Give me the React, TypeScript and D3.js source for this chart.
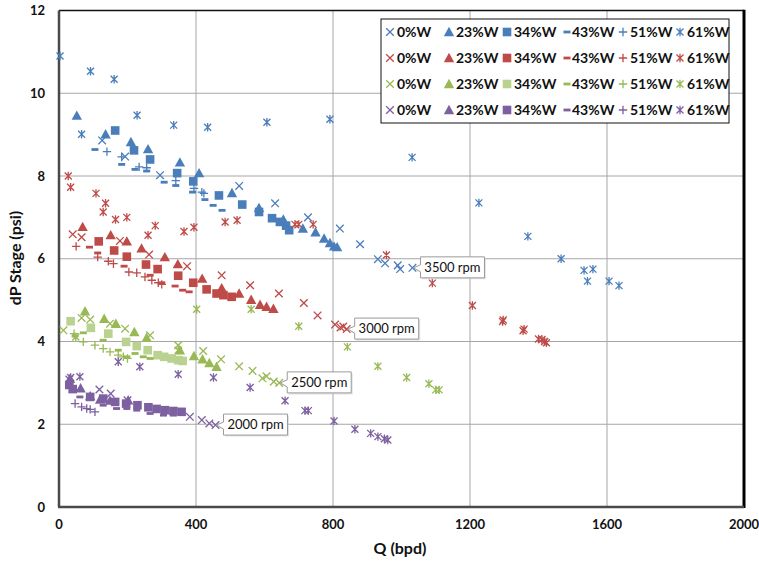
import React from 'react';
import * as d3 from 'd3';

// ---------- DATA (Q in bpd, dP in psi) ----------
const rpmLabels = ['3500 rpm', '3000 rpm', '2500 rpm', '2000 rpm'];
const waterCuts = ['0%W', '23%W', '34%W', '43%W', '51%W', '61%W'];

// 3500 rpm
const r3500_w0 = [[126,8.86],[193,8.47],[295,8.02],[526,7.76],[631,7.34],[727,7.0],[820,6.73],[879,6.35],[931,5.99],[952,5.89],[989,5.84],[996,5.75],[1032,5.78]];
const r3500_w23 = [[52,9.46],[136,9.01],[210,8.82],[260,8.65],[353,8.33],[409,8.07],[505,7.59],[584,7.23],[655,6.95],[712,6.73],[749,6.64],[774,6.49],[791,6.38],[803,6.3],[812,6.28]];
const r3500_w34 = [[164,9.1],[219,8.62],[266,8.4],[345,8.07],[392,7.87],[467,7.53],[535,7.31],[584,7.13],[622,6.98],[645,6.89],[663,6.8],[672,6.69]];
const r3500_w43 = [[105,8.64],[183,8.28],[222,8.16],[256,8.12],[307,7.85],[341,7.77],[390,7.61],[426,7.43],[450,7.29],[476,7.17]];
const r3500_w51 = [[140,8.59],[183,8.46],[234,8.22],[256,8.2],[341,7.89],[394,7.7],[417,7.61],[423,7.58]];
const r3500_w61 = [[3,10.9],[92,10.53],[161,10.34],[66,9.01],[228,9.47],[335,9.23],[434,9.18],[607,9.3],[791,9.37],[1031,8.45],[1226,7.35],[1369,6.54],[1466,6.0],[1533,5.72],[1559,5.75],[1543,5.46],[1606,5.46],[1635,5.35]];

// 3000 rpm
const r3000_w0 = [[40,6.59],[66,6.52],[178,6.43],[263,6.1],[374,5.82],[475,5.6],[558,5.36],[642,5.16],[715,4.93],[755,4.63],[806,4.41],[822,4.34],[830,4.36],[840,4.3]];
const r3000_w23 = [[69,6.77],[151,6.57],[198,6.42],[241,6.25],[309,6.04],[347,5.87],[418,5.52],[475,5.29],[526,5.16],[561,5.01],[587,4.89],[606,4.84],[626,4.79]];
const r3000_w34 = [[116,6.42],[161,6.2],[198,6.05],[254,5.86],[288,5.75],[348,5.59],[392,5.42],[431,5.26],[460,5.16],[480,5.12],[504,5.08]];
const r3000_w43 = [[89,6.28],[113,6.14],[190,5.82],[266,5.6],[300,5.42],[339,5.34],[361,5.24],[380,5.2]];
const r3000_w51 = [[50,6.3],[113,6.04],[144,5.94],[159,5.88],[204,5.68],[227,5.66],[251,5.56],[271,5.48],[290,5.42],[300,5.38]];
const r3000_w61 = [[27,8.0],[34,7.73],[108,7.58],[136,7.34],[129,7.13],[165,6.95],[198,7.0],[281,6.8],[260,6.57],[365,6.66],[394,6.76],[485,6.89],[520,6.93],[689,6.83],[700,6.83],[742,6.83],[956,6.09],[1090,5.41],[1207,4.87],[1295,4.48],[1297,4.52],[1355,4.26],[1358,4.3],[1400,4.06],[1410,4.05],[1418,4.0],[1423,3.97]];

// 2500 rpm
const r2500_w0 = [[13,4.27],[66,4.57],[91,4.53],[149,4.43],[193,4.31],[266,4.15],[348,3.91],[421,3.77],[473,3.57],[526,3.4],[565,3.29],[594,3.11],[606,3.16],[627,3.03],[643,3.0]];
const r2500_w23 = [[76,4.73],[132,4.55],[166,4.43],[220,4.23],[256,4.09],[353,3.79],[394,3.65],[419,3.57],[439,3.48],[460,3.39]];
const r2500_w34 = [[34,4.49],[93,4.33],[144,4.19],[196,3.99],[227,3.89],[259,3.79],[288,3.67],[307,3.63],[329,3.59],[348,3.55],[361,3.53]];
const r2500_w43 = [[47,4.13],[71,4.21],[129,4.03],[173,3.79],[198,3.63],[222,3.71],[246,3.63],[266,3.59]];
const r2500_w51 = [[44,4.19],[71,3.99],[105,3.91],[129,3.83],[149,3.75],[173,3.67],[188,3.63],[200,3.59]];
const r2500_w61 = [[49,4.11],[348,3.79],[402,4.78],[561,4.78],[700,4.37],[842,3.87],[931,3.4],[1015,3.13],[1080,2.98],[1100,2.83],[1110,2.83]];

// 2000 rpm
const r2000_w0 = [[30,3.08],[118,2.84],[151,2.74],[200,2.58],[382,2.18],[417,2.1],[439,2.02],[457,1.98]];
const r2000_w23 = [[32,3.1],[63,2.87],[91,2.68],[120,2.6],[149,2.57],[202,2.58]];
const r2000_w34 = [[30,2.95],[40,2.85],[91,2.66],[129,2.62],[164,2.54],[196,2.5],[229,2.46],[261,2.41],[285,2.37],[309,2.34],[334,2.32],[358,2.3]];
const r2000_w43 = [[61,2.66],[129,2.46],[168,2.38],[198,2.38],[227,2.34],[266,2.26],[305,2.22],[334,2.22]];
const r2000_w51 = [[47,2.5],[66,2.42],[81,2.38],[91,2.36],[105,2.3]];
const r2000_w61 = [[34,3.13],[61,3.15],[173,3.51],[236,3.39],[348,3.21],[451,3.13],[558,2.89],[660,2.57],[718,2.33],[728,2.33],[803,2.08],[864,1.88],[910,1.78],[931,1.7],[950,1.65],[960,1.62]];

// callout anchor points (Q, dP)
const calloutQ = [1032, 840, 643, 457];
const calloutDP = [5.78, 4.3, 3.0, 1.98];

const xTicks = [0, 400, 800, 1200, 1600, 2000];
const yTicks = [0, 2, 4, 6, 8, 10, 12];

const groups = [
  [r3500_w0, r3500_w23, r3500_w34, r3500_w43, r3500_w51, r3500_w61],
  [r3000_w0, r3000_w23, r3000_w34, r3000_w43, r3000_w51, r3000_w61],
  [r2500_w0, r2500_w23, r2500_w34, r2500_w43, r2500_w51, r2500_w61],
  [r2000_w0, r2000_w23, r2000_w34, r2000_w43, r2000_w51, r2000_w61],
];

const baseColors = ['#4A7EBB', '#BE4B48', '#98B954', '#7D60A0'];
const squareColors = ['#4A7EBB', '#BE4B48', '#B9D28F', '#7D60A0'];

const FONT = 'Lato, "Open Sans", sans-serif';

function Marker({ type, x, y, color }: { type: number; x: number; y: number; color: string }) {
  const sw = 1.3;
  switch (type) {
    case 0: {
      const h = 3.8;
      return <path d={`M${x - h},${y - h}L${x + h},${y + h}M${x - h},${y + h}L${x + h},${y - h}`} stroke={color} strokeWidth={sw} fill="none" />;
    }
    case 1: {
      return <path d={`M${x},${y - 5.2}L${x + 5.2},${y + 4.2}L${x - 5.2},${y + 4.2}Z`} fill={color} />;
    }
    case 2:
      return <rect x={x - 4.3} y={y - 4.3} width={8.6} height={8.6} fill={color} />;
    case 3:
      return <rect x={x - 3.5} y={y - 1.4} width={7} height={2.8} fill={color} />;
    case 4: {
      const h = 4.2;
      return <path d={`M${x - h},${y}L${x + h},${y}M${x},${y - h}L${x},${y + h}`} stroke={color} strokeWidth={sw} fill="none" />;
    }
    default: {
      const h = 3.5;
      return <path d={`M${x - h},${y - h}L${x + h},${y + h}M${x - h},${y + h}L${x + h},${y - h}M${x},${y - 4.2}L${x},${y + 4.2}`} stroke={color} strokeWidth={sw} fill="none" />;
    }
  }
}

export default function App() {
  const W = 759, H = 563;
  const x = d3.scaleLinear().domain([0, 2000]).range([59, 744]);
  const y = d3.scaleLinear().domain([0, 12]).range([507, 10.5]);
  const colorOf = (g: number, t: number) => (t === 2 ? squareColors[g] : baseColors[g]);

  const legendX0 = 390, legendColW = [0, 59, 117, 177, 233, 290];
  const legendY0 = 32, legendRowH = 26;

  return (
    <svg width={W} height={H} style={{ position: 'absolute', left: 0, top: 0, background: '#fff' }}>
      {/* gridlines */}
      {yTicks.map((t) => (
        <line key={'gy' + t} x1={x(0)} x2={x(2000)} y1={y(t)} y2={y(t)} stroke="#a6a6a6" strokeWidth={1} />
      ))}
      {xTicks.map((t) => (
        <line key={'gx' + t} x1={x(t)} x2={x(t)} y1={y(0)} y2={y(12)} stroke="#a6a6a6" strokeWidth={1} />
      ))}
      {/* frame */}
      <line x1={x(0)} x2={x(2000)} y1={y(12)} y2={y(12)} stroke="#111" strokeWidth={1.5} />
      <line x1={x(2000)} x2={x(2000)} y1={y(12) - 0.7} y2={y(0) + 1} stroke="#000" strokeWidth={3} />
      <line x1={x(0)} x2={x(0)} y1={y(12)} y2={y(0)} stroke="#4a4a4a" strokeWidth={2.5} />
      <line x1={x(0) - 1} x2={x(2000)} y1={y(0)} y2={y(0)} stroke="#4a4a4a" strokeWidth={2.5} />

      {/* tick labels */}
      {yTicks.map((t) => (
        <text key={'ty' + t} x={45} y={y(t) + 4.5} textAnchor="end" fontFamily={FONT} fontWeight={700} fontSize={13} fill="#111">{t}</text>
      ))}
      {xTicks.map((t) => (
        <text key={'tx' + t} x={x(t)} y={529} textAnchor="middle" fontFamily={FONT} fontWeight={700} fontSize={13} fill="#111">{t}</text>
      ))}
      <text x={400} y={554} textAnchor="middle" fontFamily={FONT} fontWeight={700} fontSize={16} fill="#111">Q (bpd)</text>
      <text transform={`translate(21,${258}) rotate(-90)`} textAnchor="middle" fontFamily={FONT} fontWeight={700} fontSize={16} fill="#111">dP Stage (psi)</text>

      {/* points */}
      {groups.map((series, g) =>
        series.map((pts, t) =>
          pts.map((p, i) => <Marker key={`${g}-${t}-${i}`} type={t} x={x(p[0])} y={y(p[1])} color={colorOf(g, t)} />)
        )
      )}

      {/* callouts */}
      {rpmLabels.map((lab, i) => {
        const px = x(calloutQ[i]) + 1, py = y(calloutDP[i]);
        const bx = px + 7, by = py - 11, bw = 64, bh = 21;
        const d = `M${bx},${by}H${bx + bw}V${by + bh}H${bx}V${py + 4}L${px},${py}L${bx},${py - 3}Z`;
        return (
          <g key={lab}>
            <path d={d} transform="translate(1.5,1.5)" fill="#d0d0d0" opacity={0.6} />
            <path d={d} fill="#fff" stroke="#9a9a9a" strokeWidth={1} />
            <text x={bx + bw / 2} y={by + 15} textAnchor="middle" fontFamily={FONT} fontSize={13} fill="#111">{lab}</text>
          </g>
        );
      })}

      {/* legend */}
      <rect x={381} y={19} width={348} height={104} fill="#fff" stroke="#111" strokeWidth={1} />
      {groups.map((_, g) =>
        waterCuts.map((wc, t) => {
          const mx = legendX0 + legendColW[t];
          const my = legendY0 + g * legendRowH;
          return (
            <g key={`lg-${g}-${t}`}>
              <Marker type={t} x={mx} y={my} color={colorOf(g, t)} />
              <text x={mx + (t === 3 ? 5 : 7)} y={my + 5} fontFamily={FONT} fontWeight={700} fontSize={14} fill="#111">{wc}</text>
            </g>
          );
        })
      )}
    </svg>
  );
}
